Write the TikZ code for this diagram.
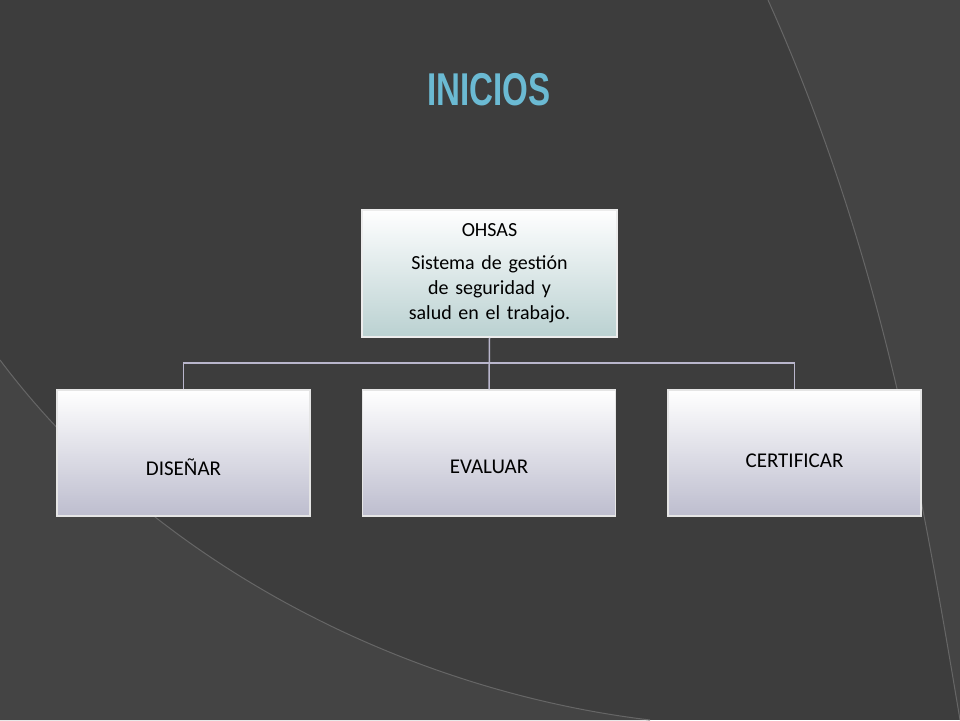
\documentclass[tikz,border=0pt]{standalone}
\usepackage{fontspec}
\setmainfont{Carlito}
\newfontfamily\titlefont{Liberation Sans}[FakeStretch=0.72]
\definecolor{bg}{HTML}{3D3D3D}
\definecolor{bgl}{HTML}{444444}
\definecolor{conn}{HTML}{B9B6CC}
\definecolor{ttl}{HTML}{6BBAD3}
\tikzset{
  top/.style={draw=white!85!gray, line width=1.5pt, top color=white!95!blue!5, bottom color=cyan!20!gray!45, minimum width=255pt, minimum height=127pt, align=center, font=\fontsize{20}{25}\selectfont, text width=245pt, inner sep=0pt},
  leaf/.style={draw=white!80!gray, line width=1.5pt, top color=white, bottom color=blue!15!gray!45, minimum width=253pt, minimum height=126pt},
  lbl/.style={font=\fontsize{21}{25}\selectfont},
  conline/.style={draw=conn, line width=1.5pt}
}
\begin{document}
\begin{tikzpicture}[x=1pt,y=-1pt]
\hyphenpenalty=10000
\fill[bg] (0,0) rectangle (960,720);
\useasboundingbox (0,0) rectangle (960,720);
\fill[bgl] (768,0) .. controls (880,250) and (920,480) .. (960,720) -- (960,0) -- cycle;
\draw[black!60, line width=1pt] (768,0) .. controls (880,250) and (920,480) .. (960,720);
\fill[bgl] (0,360) .. controls (150,560) and (400,690) .. (650,720) -- (0,720) -- cycle;
\draw[black!60, line width=1pt] (0,360) .. controls (150,560) and (400,690) .. (650,720);
\node[font=\fontsize{46}{46}\selectfont\titlefont\bfseries, text=ttl] (t) at (489,90) {INICIOS};
\node[top] (o) at (489.5,273.5) {\hyphenpenalty=10000 OHSAS\\[8pt]Sistema de gestión de seguridad y salud en el trabajo.};
\node[leaf] (d) at (183.5,453) {};
\node[leaf] (e) at (489,453) {};
\node[leaf] (c) at (794.5,453) {};
\node[lbl] (dl) at (183.5,467) {DISEÑAR};
\node[lbl] (el) at (489,467) {EVALUAR};
\node[lbl] (cl) at (794.5,461) {CERTIFICAR};
\coordinate (m) at (489,363);
\draw[conline] (o.south) -- (e.north);
\draw[conline] (d.north) -- (d.north|-m) -- (c.north|-m) -- (c.north);
\end{tikzpicture}
\end{document}
